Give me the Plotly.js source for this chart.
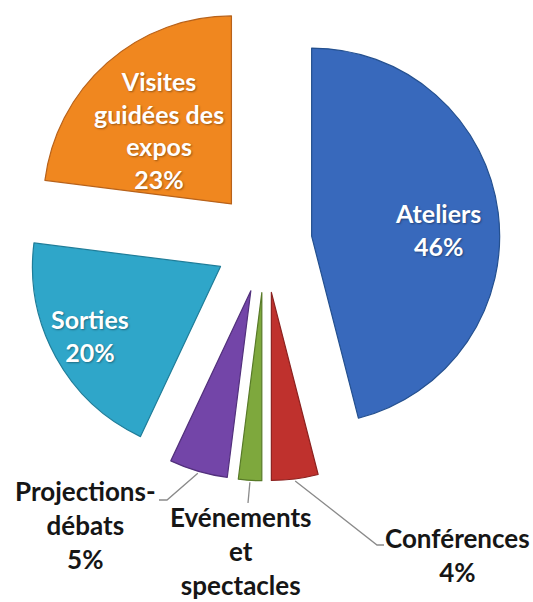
<!DOCTYPE html>
<html>
<head>
<meta charset="utf-8">
<script src="https://cdn.plot.ly/plotly-3.0.1.min.js"></script>
<style>
  html, body { margin: 0; padding: 0; background: #ffffff; }
  #chart { width: 533px; height: 602px; }
</style>
</head>
<body>
<div id="chart"></div>
<script>
// ---- Data ----
var categories = ["Ateliers", "Conférences", "Evénements et spectacles", "Projections-débats", "Sorties", "Visites guidées des expos"];
var shares = [46, 4, 2, 5, 20, 23];
// how each label is broken into lines in the picture
var labelLines = [["Ateliers"], ["Conférences"], ["Evénements", "et", "spectacles"], ["Projections-", "débats"], ["Sorties"], ["Visites", "guidées des", "expos"]];
// the picture is cropped just below "spectacles", so that label's percentage is not visible
var showPercent = [true, true, false, true, true, true];

// ---- Styles and layout (not data) ----
var W = 533, H = 602;
var sliceColors = ["#3869bc", "#bf312d", "#7ea83d", "#7345a8", "#2fa6c9", "#f0871f"];
var edgeColors  = ["#24508f", "#8c2220", "#587a28", "#52307c", "#1f7d99", "#b8621a"];
var pulls       = [0.25, 0.27, 0.27, 0.27, 0.27, 0.27];
var domainX = [0.0492, 0.9452], domainY = [0.2013, 0.9947];
var inside = [true, false, false, false, true, true];
// label block centres, in pixels
var labelPos = [[438, 230], [457, 555], [240, 551], [85, 525], [90, 335], [159, 130]];
// elbow points of the leader lines (pixels), next to the outside labels
var leaderElbows = [null, [[377, 545], [384, 545]], [[248, 503]], [[167, 500], [159, 500]], null, null];

var fontFam = "Lato, 'Open Sans', sans-serif";

// pie geometry as Plotly computes it
var maxPull = Math.max.apply(null, pulls);
var cx = W * (domainX[0] + domainX[1]) / 2;
var cy = H * (1 - (domainY[0] + domainY[1]) / 2);
var R = Math.min(W * (domainX[1] - domainX[0]), H * (domainY[1] - domainY[0])) / 2 / (1 + maxPull);
var total = shares.reduce(function (a, b) { return a + b; }, 0);

function px(x) { return x / W; }
function py(y) { return 1 - y / H; }

var annotations = [];
var shapes = [];
var cum = 0;
for (var i = 0; i < shares.length; i++) {
  var frac = shares[i] / total;
  var mid = (cum + frac / 2) * 2 * Math.PI; // clockwise from 12 o'clock
  cum += frac;
  var lines = labelLines[i].slice();
  if (showPercent[i]) lines.push(Math.round(frac * 100) + "%");
  annotations.push({
    xref: "paper", yref: "paper",
    x: px(labelPos[i][0]), y: py(labelPos[i][1]),
    xanchor: "center", yanchor: "middle",
    showarrow: false,
    align: "center",
    text: "<b>" + lines.join("<br>") + "</b>",
    font: inside[i]
      ? { family: fontFam, size: 25, color: "#ffffff", shadow: "1px 1px 2px rgba(0,0,0,0.35)" }
      : { family: fontFam, size: 26, color: "#161616" }
  });
  if (leaderElbows[i]) {
    var rr = (1 + pulls[i]) * R + 2;
    var sx = cx + rr * Math.sin(mid);
    var sy = cy - rr * Math.cos(mid);
    var path = "M " + px(sx) + " " + py(sy);
    leaderElbows[i].forEach(function (p) { path += " L " + px(p[0]) + " " + py(p[1]); });
    shapes.push({ type: "path", xref: "paper", yref: "paper", path: path,
                  line: { color: "#8a8a8a", width: 1.3 } });
  }
}

var trace = {
  type: "pie",
  labels: categories,
  values: shares,
  sort: false,
  direction: "clockwise",
  rotation: 0,
  pull: pulls,
  marker: { colors: sliceColors, line: { color: edgeColors, width: 1.2 } },
  textinfo: "none",
  hoverinfo: "none",
  showlegend: false,
  automargin: false,
  domain: { x: domainX, y: domainY }
};

var layout = {
  width: W,
  height: H,
  margin: { l: 0, r: 0, t: 0, b: 0 },
  paper_bgcolor: "#ffffff",
  showlegend: false,
  annotations: annotations,
  shapes: shapes
};

Plotly.newPlot("chart", [trace], layout, { staticPlot: true, displayModeBar: false });
</script>
</body>
</html>
